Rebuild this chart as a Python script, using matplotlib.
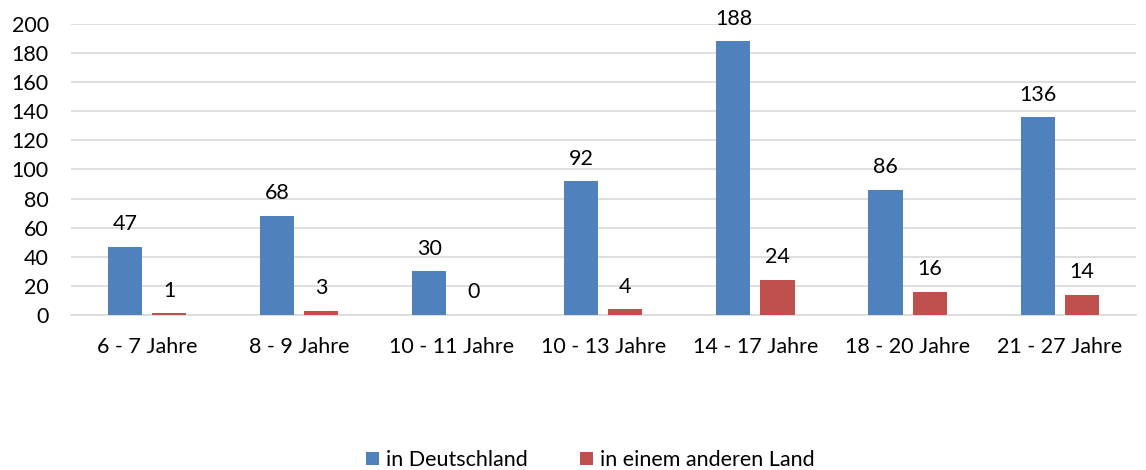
import matplotlib.pyplot as plt
import numpy as np

categories = ['6 - 7 Jahre', '8 - 9 Jahre', '10 - 11 Jahre', '10 - 13 Jahre',
              '14 - 17 Jahre', '18 - 20 Jahre', '21 - 27 Jahre']
deutschland = [47, 68, 30, 92, 188, 86, 136]
anderes_land = [1, 3, 0, 4, 24, 16, 14]
series_names = ['in Deutschland', 'in einem anderen Land']
yticks = [0, 20, 40, 60, 80, 100, 120, 140, 160, 180, 200]

plt.rcParams['font.family'] = ['Lato', 'DejaVu Sans']

fig = plt.figure(figsize=(11.46, 4.70), dpi=100)
ax = fig.add_axes([0.062, 0.330, 0.929, 0.619])

x = np.arange(len(categories))
w = 0.224
gap = 0.066
b1 = ax.bar(x - (w + gap) / 2, deutschland, w, color='#4F81BD', label=series_names[0], zorder=3)
b2 = ax.bar(x + (w + gap) / 2, anderes_land, w, color='#C0504D', label=series_names[1], zorder=3)

for bars in (b1, b2):
    for rect in bars:
        h = rect.get_height()
        ax.annotate(f'{int(h)}', (rect.get_x() + rect.get_width() / 2, h),
                    xytext=(0, 9), textcoords='offset points',
                    ha='center', va='bottom', fontsize=15.5, color='#000000')

ax.set_xlim(-0.5, len(categories) - 0.5)
ax.set_ylim(0, 200)
ax.set_yticks(yticks)
ax.set_xticks(x)
ax.set_xticklabels(categories)
ax.tick_params(axis='both', length=0, labelsize=15.5, colors='#000000')
ax.tick_params(axis='x', pad=16)
ax.tick_params(axis='y', pad=16)
ax.grid(axis='y', color='#D9D9D9', linewidth=1.2, zorder=0)
for s in ('top', 'right', 'left'):
    ax.spines[s].set_visible(False)
ax.spines['bottom'].set_color('#D9D9D9')
ax.spines['bottom'].set_linewidth(1.2)

fig.legend(loc='center', bbox_to_anchor=(0.515, 0.021), ncol=2, frameon=False,
           fontsize=15.5, handlelength=0.6, handleheight=0.6, handletextpad=0.35,
           columnspacing=2.4)

fig.savefig('out.png', dpi=100)
